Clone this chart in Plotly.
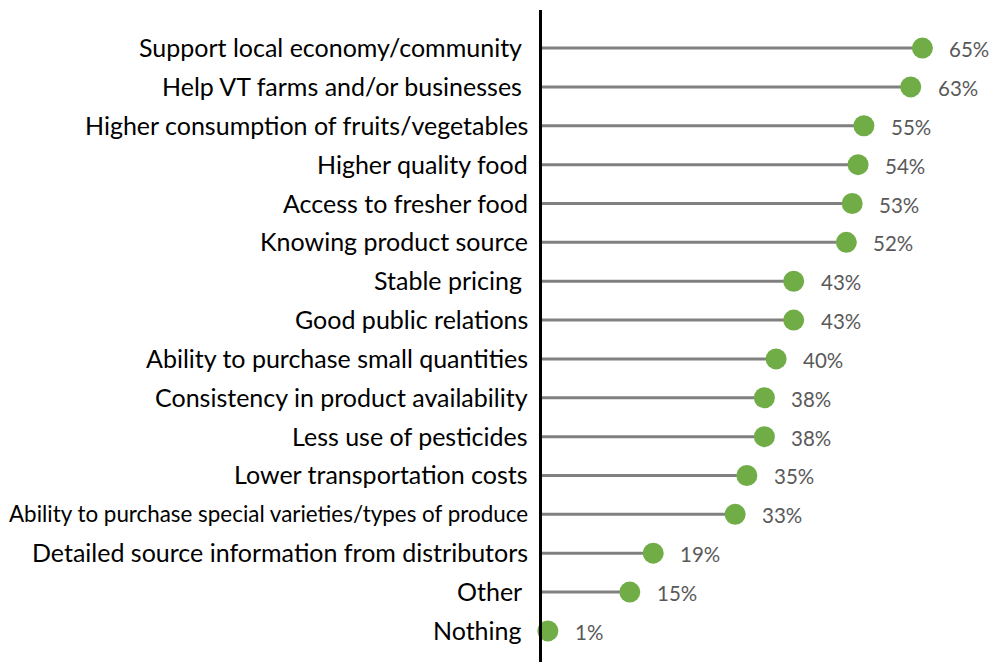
import plotly.graph_objects as go

# Survey responses: perceived benefits of buying local, share of respondents (%)
categories = [
    "Support local economy/community\u00a0",
    "Help VT farms and/or businesses\u00a0",
    "Higher consumption of fruits/vegetables",
    "Higher quality food",
    "Access to fresher food",
    "Knowing product source",
    "Stable pricing\u00a0",
    "Good public relations",
    "Ability to purchase small quantities",
    "Consistency in product availability",
    "Less use of pesticides",
    "Lower transportation costs",
    "Ability to purchase special varieties/types of produce",
    "Detailed source information from distributors",
    "Other\u00a0",
    "Nothing\u00a0",
]
values = [65, 63, 55, 54, 53, 52, 43, 43, 40, 38, 38, 35, 33, 19, 15, 1]
value_labels = [f"{v}%" for v in values]

FONT = "Lato"
GREEN = "#70AD47"
STEM = "#808080"

positions = list(range(len(categories)))

# stems from 0 to each value
stem_x, stem_y = [], []
for p, v in zip(positions, values):
    stem_x += [0, v, None]
    stem_y += [p, p, None]

fig = go.Figure()
fig.add_trace(go.Scatter(
    x=stem_x, y=stem_y, mode="lines",
    line=dict(color=STEM, width=3), hoverinfo="skip", showlegend=False,
))
fig.add_trace(go.Scatter(
    x=values, y=positions, mode="markers",
    marker=dict(color=GREEN, size=21, line=dict(width=0)),
    showlegend=False, cliponaxis=False,
))

# value labels right of each dot
for p, v, t in zip(positions, values, value_labels):
    fig.add_annotation(
        x=v, y=p, text=t, showarrow=False, xanchor="left", yanchor="middle",
        xshift=25, yshift=-1, font=dict(family=FONT, size=20.5, color="#595959"),
    )

# category labels left of the axis
for p, c in zip(positions, categories):
    size = 22.4 if len(c) > 45 else 25
    fig.add_annotation(
        x=0, y=p, text=c, showarrow=False, xanchor="right", yanchor="middle",
        xshift=-12, yshift=1, font=dict(family=FONT, size=size, color="#000000"),
    )

fig.update_layout(
    width=995, height=662,
    margin=dict(l=542, r=0, t=10, b=0),
    paper_bgcolor="white", plot_bgcolor="white",
    xaxis=dict(range=[0, 77.4], visible=False, showgrid=False, zeroline=False),
    yaxis=dict(
        range=[15.8, -0.98], showgrid=False, zeroline=False,
        showticklabels=False, ticks="",
        showline=True, linecolor="#000000", linewidth=2.5,
    ),
)

fig.write_html("out.html")
